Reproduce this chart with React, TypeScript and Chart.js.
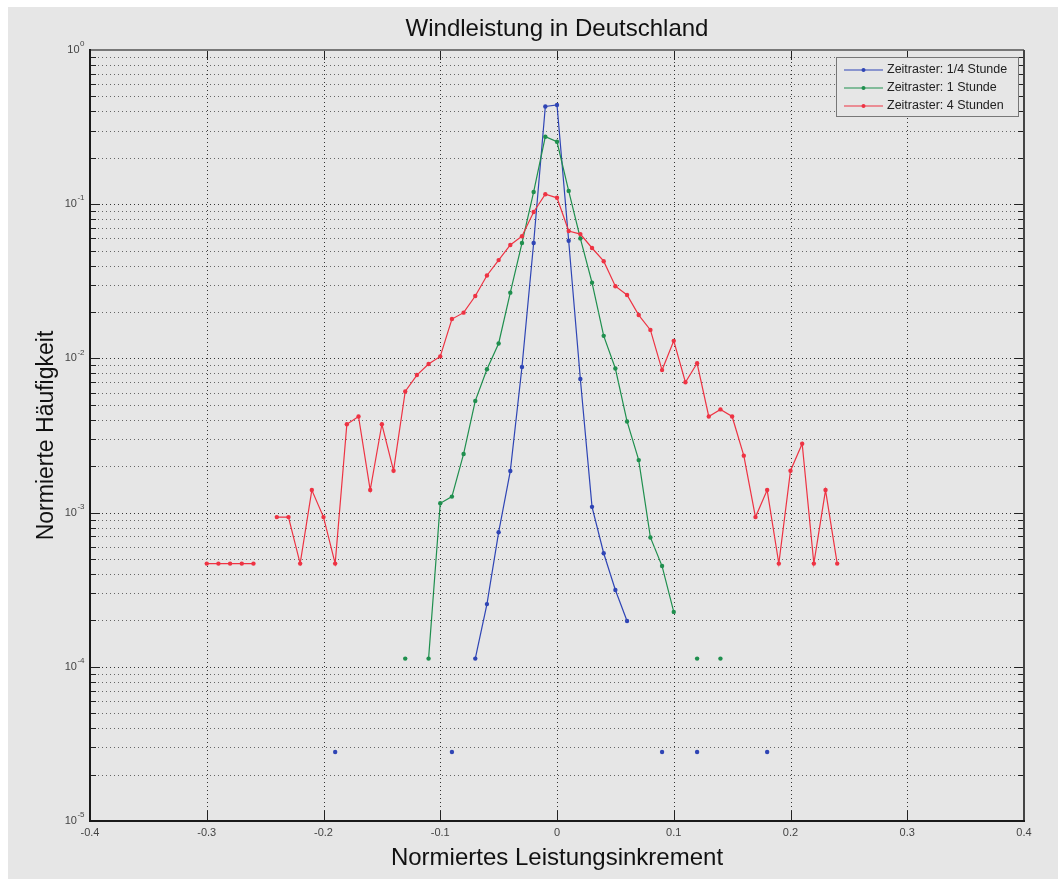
import React, { useEffect, useRef } from "react";
import { Chart, registerables } from "chart.js";

Chart.register(...registerables);

// ---- data ----
const xValues = [
  -0.30, -0.29, -0.28, -0.27, -0.26, -0.25, -0.24, -0.23, -0.22, -0.21,
  -0.20, -0.19, -0.18, -0.17, -0.16, -0.15, -0.14, -0.13, -0.12, -0.11,
  -0.10, -0.09, -0.08, -0.07, -0.06, -0.05, -0.04, -0.03, -0.02, -0.01,
  0.00, 0.01, 0.02, 0.03, 0.04, 0.05, 0.06, 0.07, 0.08, 0.09,
  0.10, 0.11, 0.12, 0.13, 0.14, 0.15, 0.16, 0.17, 0.18, 0.19,
  0.20, 0.21, 0.22, 0.23, 0.24,
];

const quarterHour: (number | null)[] = [
  null, null, null, null, null, null, null, null, null, null,
  null, 2.8e-5, null, null, null, null, null, null, null, null,
  null, 2.8e-5, null, 1.13e-4, 2.55e-4, 7.45e-4, 1.86e-3, 8.8e-3, 0.056, 0.43,
  0.44, 0.058, 7.35e-3, 1.09e-3, 5.45e-4, 3.15e-4, 1.98e-4, null, null, 2.8e-5,
  null, null, 2.8e-5, null, null, null, null, null, 2.8e-5, null,
  null, null, null, null, null,
];

const oneHour: (number | null)[] = [
  null, null, null, null, null, null, null, null, null, null,
  null, null, null, null, null, null, null, 1.13e-4, null, 1.13e-4,
  1.15e-3, 1.27e-3, 2.4e-3, 5.3e-3, 8.5e-3, 1.25e-2, 2.67e-2, 5.6e-2, 0.12, 0.274,
  0.254, 0.122, 0.06, 0.031, 0.014, 8.6e-3, 3.9e-3, 2.19e-3, 6.9e-4, 4.5e-4,
  2.27e-4, null, 1.13e-4, null, 1.13e-4, null, null, null, null, null,
  null, null, null, null, null,
];

const fourHours: (number | null)[] = [
  4.67e-4, 4.67e-4, 4.67e-4, 4.67e-4, 4.67e-4, null, 9.35e-4, 9.35e-4, 4.67e-4, 1.4e-3,
  9.35e-4, 4.67e-4, 3.74e-3, 4.2e-3, 1.4e-3, 3.74e-3, 1.87e-3, 6.1e-3, 7.8e-3, 9.2e-3,
  1.03e-2, 1.8e-2, 1.98e-2, 2.54e-2, 3.45e-2, 4.34e-2, 5.44e-2, 6.2e-2, 8.9e-2, 0.116,
  0.110, 0.067, 0.064, 0.052, 0.0427, 0.0294, 0.0258, 0.0191, 0.0153, 8.4e-3,
  0.013, 7.0e-3, 9.3e-3, 4.2e-3, 4.67e-3, 4.2e-3, 2.34e-3, 9.35e-4, 1.4e-3, 4.67e-4,
  1.87e-3, 2.8e-3, 4.67e-4, 1.4e-3, 4.67e-4,
];

const seriesLabels = [
  "Zeitraster: 1/4 Stunde",
  "Zeitraster: 1 Stunde",
  "Zeitraster: 4 Stunden",
];
const seriesColors = ["#2f45b5", "#1f8f4e", "#ee3343"];
const seriesOrder = [2, 1, 0];

const xTicks = [-0.4, -0.3, -0.2, -0.1, 0, 0.1, 0.2, 0.3, 0.4];
const xTickLabels = ["-0.4", "-0.3", "-0.2", "-0.1", "0", "0.1", "0.2", "0.3", "0.4"];
const yDecades = [1e-5, 1e-4, 1e-3, 1e-2, 1e-1, 1];
const yExponents = ["-5", "-4", "-3", "-2", "-1", "0"];
const yMinor = [2, 3, 4, 5, 6, 7, 8, 9];

const titleText = "Windleistung in Deutschland";
const xTitleText = "Normiertes Leistungsinkrement";
const yTitleText = "Normierte Häufigkeit";

// ---- styling ----
const BG = "#e6e6e6";
const FONT = "'Liberation Sans', Arial, Helvetica, sans-serif";

const matlabPlugin = {
  id: "matlabLook",
  beforeDraw(chart: any) {
    const { ctx, width, height } = chart;
    ctx.save();
    ctx.fillStyle = BG;
    ctx.fillRect(0, 0, width, height);
    ctx.restore();
  },
  beforeDatasetsDraw(chart: any) {
    const { ctx, chartArea: a, scales } = chart;
    const x = scales.x;
    const y = scales.y;
    ctx.save();
    ctx.lineWidth = 1;
    ctx.setLineDash([1, 3]);
    yDecades.forEach((d, i) => {
      if (i === yDecades.length - 1) return;
      const vals = [d, ...yMinor.map((m) => d * m)];
      vals.forEach((v, j) => {
        const py = Math.round(y.getPixelForValue(v)) + 0.5;
        if (py <= a.top + 1 || py >= a.bottom - 1) return;
        ctx.strokeStyle = j === 0 ? "#333" : "#666";
        ctx.beginPath();
        ctx.moveTo(a.left, py);
        ctx.lineTo(a.right, py);
        ctx.stroke();
      });
    });
    xTicks.forEach((v) => {
      const px = Math.round(x.getPixelForValue(v)) + 0.5;
      if (px <= a.left + 1 || px >= a.right - 1) return;
      ctx.strokeStyle = "#333";
      ctx.beginPath();
      ctx.moveTo(px, a.top);
      ctx.lineTo(px, a.bottom);
      ctx.stroke();
    });
    ctx.restore();
  },
  afterDraw(chart: any) {
    const { ctx, chartArea: a, scales } = chart;
    const x = scales.x;
    const y = scales.y;
    ctx.save();
    ctx.setLineDash([]);

    // inward ticks
    ctx.strokeStyle = "#222";
    ctx.lineWidth = 1;
    xTicks.forEach((v) => {
      const px = Math.round(x.getPixelForValue(v)) + 0.5;
      ctx.beginPath();
      ctx.moveTo(px, a.bottom);
      ctx.lineTo(px, a.bottom - 10);
      ctx.moveTo(px, a.top);
      ctx.lineTo(px, a.top + 10);
      ctx.stroke();
    });
    yDecades.forEach((d, i) => {
      const vals = i === yDecades.length - 1 ? [d] : [d, ...yMinor.map((m) => d * m)];
      vals.forEach((v, j) => {
        const py = Math.round(y.getPixelForValue(v)) + 0.5;
        const len = j === 0 ? 10 : 6;
        ctx.beginPath();
        ctx.moveTo(a.left, py);
        ctx.lineTo(a.left + len, py);
        ctx.moveTo(a.right, py);
        ctx.lineTo(a.right - len, py);
        ctx.stroke();
      });
    });

    // frame
    ctx.lineWidth = 2;
    ctx.strokeStyle = "#777";
    ctx.beginPath();
    ctx.moveTo(a.left, a.top);
    ctx.lineTo(a.right, a.top);
    ctx.stroke();
    ctx.strokeStyle = "#444";
    ctx.beginPath();
    ctx.moveTo(a.right, a.top);
    ctx.lineTo(a.right, a.bottom);
    ctx.stroke();
    ctx.strokeStyle = "#1a1a1a";
    ctx.beginPath();
    ctx.moveTo(a.left, a.top - 1);
    ctx.lineTo(a.left, a.bottom);
    ctx.lineTo(a.right + 1, a.bottom);
    ctx.stroke();

    // x tick labels
    ctx.fillStyle = "#444";
    ctx.font = `11px ${FONT}`;
    ctx.textAlign = "center";
    ctx.textBaseline = "middle";
    xTicks.forEach((v, i) => {
      ctx.fillText(xTickLabels[i], x.getPixelForValue(v), a.bottom + 12);
    });

    // y tick labels 10^n
    yDecades.forEach((d, i) => {
      const py = y.getPixelForValue(d);
      ctx.font = `11px ${FONT}`;
      const wBase = ctx.measureText("10").width;
      ctx.font = `8px ${FONT}`;
      const wExp = ctx.measureText(yExponents[i]).width;
      const right = a.left - 6;
      const startX = right - wExp - wBase;
      ctx.textAlign = "left";
      ctx.textBaseline = "middle";
      ctx.font = `11px ${FONT}`;
      ctx.fillText("10", startX, py);
      ctx.font = `8px ${FONT}`;
      ctx.fillText(yExponents[i], startX + wBase + 0.5, py - 6);
    });

    // titles
    ctx.fillStyle = "#111";
    ctx.textAlign = "center";
    ctx.textBaseline = "alphabetic";
    ctx.font = `24px ${FONT}`;
    const cx = (a.left + a.right) / 2;
    ctx.fillText(titleText, cx, 29);
    ctx.font = `24px ${FONT}`;
    ctx.fillText(xTitleText, cx, a.bottom + 44);
    ctx.save();
    ctx.translate(45, (a.top + a.bottom) / 2);
    ctx.rotate(-Math.PI / 2);
    ctx.font = `23px ${FONT}`;
    ctx.fillText(yTitleText, 0, 0);
    ctx.restore();

    // legend
    const bw = 182;
    const bh = 59;
    const bx = a.right - 6 - bw;
    const by = a.top + 7;
    ctx.fillStyle = BG;
    ctx.fillRect(bx, by, bw, bh);
    ctx.lineWidth = 1;
    ctx.strokeStyle = "#777";
    ctx.strokeRect(bx + 0.5, by + 0.5, bw, bh);
    seriesLabels.forEach((lab, i) => {
      const ry = by + 13 + i * 18;
      ctx.strokeStyle = seriesColors[i];
      ctx.lineWidth = 1.2;
      ctx.beginPath();
      ctx.moveTo(bx + 8, ry);
      ctx.lineTo(bx + 47, ry);
      ctx.stroke();
      ctx.fillStyle = seriesColors[i];
      ctx.beginPath();
      ctx.arc(bx + 27.5, ry, 2, 0, Math.PI * 2);
      ctx.fill();
      ctx.fillStyle = "#222";
      ctx.font = `12.5px ${FONT}`;
      ctx.textAlign = "left";
      ctx.textBaseline = "middle";
      ctx.fillText(lab, bx + 51, ry);
    });

    ctx.restore();
  },
};

export default function App() {
  const canvasRef = useRef<HTMLCanvasElement | null>(null);

  useEffect(() => {
    if (!canvasRef.current) return;
    const series = [quarterHour, oneHour, fourHours];
    const chart = new Chart(canvasRef.current, {
      type: "line",
      data: {
        datasets: series.map((s, i) => ({
          label: seriesLabels[i],
          data: xValues.map((xv, k) => ({ x: xv, y: s[k] })),
          borderColor: seriesColors[i],
          backgroundColor: seriesColors[i],
          borderWidth: 1.2,
          pointRadius: 2.2,
          pointHoverRadius: 2.2,
          pointBorderWidth: 0,
          pointStyle: "circle",
          spanGaps: false,
          tension: 0,
          order: seriesOrder[i],
        })),
      },
      options: {
        responsive: false,
        animation: false,
        events: [],
        layout: { padding: { left: 82, top: 43, right: 34, bottom: 58 } },
        plugins: {
          legend: { display: false },
          tooltip: { enabled: false },
          title: { display: false },
        },
        scales: {
          x: { type: "linear", min: -0.4, max: 0.4, display: false },
          y: { type: "logarithmic", min: 1e-5, max: 1, display: false },
        },
      },
      plugins: [matlabPlugin],
    } as any);
    return () => chart.destroy();
  }, []);

  return (
    <div
      style={{
        position: "absolute",
        left: 8,
        top: 7,
        width: 1050,
        height: 872,
        background: BG,
      }}
    >
      <canvas ref={canvasRef} width={1050} height={872} style={{ display: "block" }} />
    </div>
  );
}
